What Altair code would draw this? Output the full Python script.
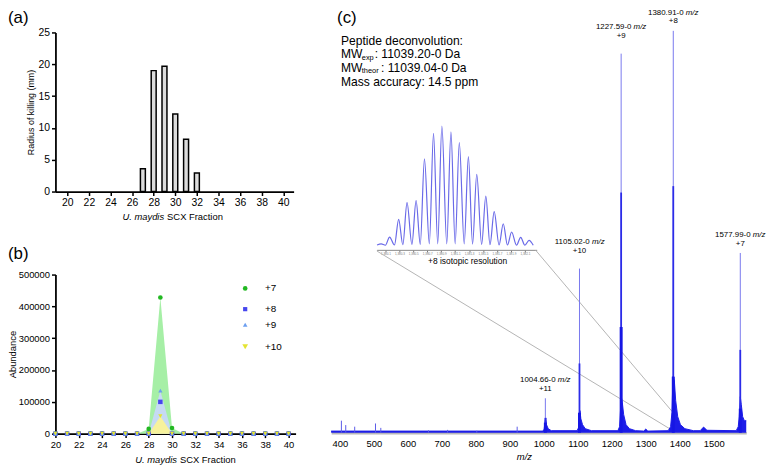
import altair as alt
import pandas as pd

FONT = "Liberation Sans"

# ---------------- (a) antifungal activity per SCX fraction ----------------
a_fraction = [27, 28, 29, 30, 31, 32]
a_radius = [3.6, 19.0, 19.7, 12.2, 8.2, 2.9]
frac_ticks = [20, 22, 24, 26, 28, 30, 32, 34, 36, 38, 40]
a_yticks = [0, 5, 10, 15, 20, 25]

# ---------------- (b) abundance of charge states per fraction ----------------
b_fraction = [20, 21, 22, 23, 24, 25, 26, 27, 28, 29, 30, 31, 32, 33, 34, 35, 36, 37, 38, 39, 40]
b_plus7 = [0, 0, 0, 0, 0, 0, 0, 0, 15000, 428000, 18000, 0, 0, 0, 0, 0, 0, 0, 0, 0, 0]
b_plus8 = [0, 0, 0, 0, 0, 0, 0, 0, 0, 100000, 0, 0, 0, 0, 0, 0, 0, 0, 0, 0, 0]
b_plus9 = [0, 0, 0, 0, 0, 0, 0, 0, 0, 135000, 0, 0, 0, 0, 0, 0, 0, 0, 0, 0, 0]
b_plus10 = [0, 0, 0, 0, 0, 0, 0, 0, 0, 55000, 0, 0, 0, 0, 0, 0, 0, 0, 0, 0, 0]
b_series = ["+7", "+8", "+9", "+10"]
b_colors = ["#22b822", "#4646ee", "#6c9ff0", "#e4e432"]
b_shapes = ["circle", "square", "triangle-up", "triangle-down"]
b_sizes = [22, 18, 22, 34]
b_area_series = ["+7", "+9", "+10"]
b_area_colors = ["#a6efa6", "#c6daf3", "#f7f29c"]
b_yticks = [0, 100000, 200000, 300000, 400000, 500000]
legend_y_px = [14, 35, 50.7, 73]

# ---------------- (c) mass spectrum ----------------
c_xticks = [400, 500, 600, 700, 800, 900, 1000, 1100, 1200, 1300, 1400, 1500]
env_mz = [374.6, 996, 1001, 1004, 1006, 1008, 1013, 1022,
          1098, 1102, 1104.5, 1106.5, 1109, 1114, 1122, 1140,
          1218, 1223, 1226, 1228, 1231, 1235, 1242, 1252, 1270,
          1294, 1300, 1306,
          1366, 1373, 1377, 1380, 1384, 1388, 1394, 1402, 1415, 1440,
          1460, 1470, 1480,
          1566, 1572, 1575, 1578, 1581, 1585, 1590, 1595.5]
env_int = [0.4, 0.4, 0.8, 3.0, 3.7, 2.0, 1.0, 0.5,
           0.5, 1.2, 4.5, 5.5, 3.5, 2.0, 1.0, 0.5,
           0.5, 1.5, 6.0, 9.0, 7.5, 4.5, 2.0, 1.0, 0.5,
           0.4, 0.9, 0.4,
           0.5, 1.5, 5.0, 14.0, 13.0, 8.0, 4.0, 2.0, 1.0, 0.5,
           0.5, 1.4, 0.6,
           0.5, 1.5, 4.0, 9.0, 7.0, 4.0, 3.0, 3.0]
peaks_mz = [1004.66, 1105.02, 1227.59, 1380.91, 1577.99]
peaks_top = [8.6, 41.0, 94.7, 100.4, 44.9]
peaks_mid = [3.7, 17.3, 60.0, 61.6, 20.7]
peaks_low = [2.5, 5.0, 26.4, 14.0, 6.0]
peaks_label = ["1004.66-0", "1105.02-0", "1227.59-0", "1380.91-0", "1577.99-0"]
peaks_charge = ["+11", "+10", "+9", "+8", "+7"]
label_lift = [0.0, 2.0, 2.0, 0.0, 0.0]   # extra label clearance above each peak (layout)
noise_mz = [404.7, 417.5, 443.8, 505.0, 520.6, 660.8, 717.0, 803.0, 921.7]
noise_int = [3.0, 1.9, 1.5, 2.3, 1.2, 0.6, 0.7, 0.5, 1.5]
conn_x1 = [509.0, 976.0]
conn_y1 = [45.4, 45.6]
conn_x2 = [1370.0, 1376.5]
conn_y2 = [1.0, 5.4]

# inset: +8 isotopic envelope
inset_mz = [1379.98, 1380.04, 1380.10, 1380.16, 1380.23, 1380.29, 1380.35, 1380.41,
            1380.48, 1380.54, 1380.60, 1380.66, 1380.73, 1380.79, 1380.85, 1380.91,
            1380.98, 1381.04, 1381.10, 1381.16, 1381.23, 1381.29, 1381.35, 1381.41,
            1381.48, 1381.54, 1381.60, 1381.66, 1381.73, 1381.79, 1381.85, 1381.91,
            1381.98, 1382.04, 1382.10, 1382.16, 1382.22]
inset_int = [1.0, 1.9, 0.8, 7.6, 1.0, 22.4, 1.2, 36.2,
             1.5, 38.0, 1.5, 72.6, 2.0, 93.9, 2.0, 100.0,
             2.0, 95.1, 2.0, 86.3, 2.0, 74.5, 1.8, 59.7,
             1.5, 41.7, 1.2, 28.8, 1.0, 18.7, 1.0, 11.8,
             0.8, 7.4, 0.8, 4.9, 0.8]
inset_ticks = [1380.1, 1380.3, 1380.5, 1380.7, 1380.9, 1381.1, 1381.3, 1381.5, 1381.7, 1381.9, 1382.1]


def txt(s, x, y, size, align="left", style="normal", baseline="middle", color="black"):
    return alt.Chart(pd.DataFrame({"t": [s]})).mark_text(
        align=align, baseline=baseline, fontSize=size, fontStyle=style, font=FONT, color=color
    ).encode(x=alt.value(x), y=alt.value(y), text="t:N")


ax_common = dict(domainColor="black", domainWidth=1.8, tickColor="black", tickWidth=1.5, tickSize=4,
                 labelColor="black", labelFont=FONT, titleFont=FONT, titleColor="black",
                 titleFontWeight="normal", grid=False, labelPadding=2, labelFlush=False)

# ---------------- panel (a) ----------------
WA, HA = 241, 161
df_a = pd.DataFrame({"fraction": a_fraction, "radius": a_radius})
bars_a = alt.Chart(df_a).mark_bar(size=5, fill="#dcdcdc", stroke="black", strokeWidth=1.5).encode(
    x=alt.X("fraction:Q", scale=alt.Scale(domain=[19.36, 40.5], nice=False, zero=False),
            axis=alt.Axis(values=frac_ticks, title=None, labelFontSize=10.5, **ax_common)),
    y=alt.Y("radius:Q", scale=alt.Scale(domain=[0, 25], nice=False),
            axis=alt.Axis(values=a_yticks, title="Radius of killing (mm)", titleFontSize=9,
                          titlePadding=3, labelFontSize=10.5, **ax_common)),
)
panel_a = alt.layer(
    bars_a,
    txt("(a)", -48, -15, 17),
    txt("U. maydis", 110, 187, 9.5, align="right", style="italic"),
    txt("SCX Fraction", 113, 187, 9.5),
).properties(width=WA, height=HA)

# ---------------- panel (b) ----------------
WB, HB = 243, 161
rows = []
for s, vals in zip(b_series, [b_plus7, b_plus8, b_plus9, b_plus10]):
    for f, v in zip(b_fraction, vals):
        rows.append({"fraction": f, "series": s, "abundance": v})
df_b = pd.DataFrame(rows)

xb = alt.X("fraction:Q", scale=alt.Scale(domain=[20, 40.6], nice=False, zero=False),
           axis=alt.Axis(values=frac_ticks, title=None, labelFontSize=9.5, **ax_common))
yb = alt.Y("abundance:Q", stack=None, scale=alt.Scale(domain=[0, 500000], nice=False),
           axis=alt.Axis(values=b_yticks, format="d", title="Abundance", titleFontSize=9.5,
                         titlePadding=1, labelFontSize=9.5, **ax_common))
areas_b = [
    alt.Chart(df_b).transform_filter(alt.datum.series == s).mark_area(color=c, opacity=1).encode(x=xb, y=yb)
    for s, c in zip(b_area_series, b_area_colors)
]
pts_b = alt.Chart(df_b).mark_point(filled=True, opacity=1).encode(
    x=xb, y=yb,
    color=alt.Color("series:N", scale=alt.Scale(domain=b_series, range=b_colors), legend=None),
    shape=alt.Shape("series:N", scale=alt.Scale(domain=b_series, range=b_shapes), legend=None),
    size=alt.Size("series:N", scale=alt.Scale(domain=b_series, range=b_sizes), legend=None),
)
legend_layers = []
for s, c, sh, sz, ly in zip(b_series, b_colors, b_shapes, b_sizes, legend_y_px):
    legend_layers.append(
        alt.Chart(pd.DataFrame({"t": [s]})).mark_point(filled=True, size=sz, opacity=1, color=c, shape=sh)
        .encode(x=alt.value(192), y=alt.value(ly))
    )
    legend_layers.append(txt(s, 212, ly, 10))

panel_b = alt.layer(
    *areas_b, pts_b, *legend_layers,
    txt("(b)", -48, -20.5, 17),
    txt("U. maydis", 123, 188, 9.5, align="right", style="italic"),
    txt("SCX Fraction", 126, 188, 9.5),
).properties(width=WB, height=HB)

# ---------------- panel (c) ----------------
WC, HC = 420, 405
xc_scale = alt.Scale(domain=[374.6, 1595.5], nice=False, zero=False)
xc_axis = alt.Axis(values=c_xticks, format="d", title="m/z", titleFontStyle="italic",
                   titleFontWeight="normal", titleFontSize=9.5, titleX=195, titleY=24,
                   titleBaseline="middle", labelFontSize=9.5, ticks=False, labelPadding=6,
                   domainColor="#b8b8b8", domainWidth=2.5, labelFont=FONT, titleFont=FONT,
                   labelColor="black", titleColor="black", labelFlush=False, grid=False)
yc_scale = alt.Scale(domain=[0, 100], nice=False)


def xc(field):
    return alt.X(field, scale=xc_scale, axis=xc_axis)


def yc(field):
    return alt.Y(field, scale=yc_scale, axis=None)


df_env = pd.DataFrame({"mz": env_mz, "inten": env_int})
df_pk = pd.DataFrame({"mz": peaks_mz, "top": peaks_top, "mid": peaks_mid, "low": peaks_low,
                      "lab": peaks_label, "charge": peaks_charge, "lift": label_lift})
df_noise = pd.DataFrame({"mz": noise_mz, "inten": noise_int})
df_conn = pd.DataFrame({"x1": conn_x1, "y1": conn_y1, "x2": conn_x2, "y2": conn_y2})

conn = alt.Chart(df_conn).mark_rule(color="#b4b4b4", strokeWidth=1).encode(
    x=xc("x1:Q"), x2="x2:Q", y=yc("y1:Q"), y2="y2:Q")
env_area = alt.Chart(df_env).mark_area(color="#1c1ce8", opacity=1).encode(x=xc("mz:Q"), y=yc("inten:Q"))
env_line = alt.Chart(df_env).mark_line(color="#1c1ce8", strokeWidth=1).encode(x=xc("mz:Q"), y=yc("inten:Q"))
noise = alt.Chart(df_noise).mark_rule(color="#5a5ae8", strokeWidth=1).encode(
    x=xc("mz:Q"), y=yc("inten:Q"), y2=alt.datum(0))
spike_top = alt.Chart(df_pk).mark_rule(color="#7878ee", strokeWidth=1).encode(
    x=xc("mz:Q"), y=yc("top:Q"), y2=alt.datum(0))
spike_mid = alt.Chart(df_pk).mark_rule(color="#2c2ce8", strokeWidth=1.8).encode(
    x=xc("mz:Q"), y=yc("mid:Q"), y2=alt.datum(0))
spike_low = alt.Chart(df_pk).mark_rule(color="#1616e4", strokeWidth=3).encode(
    x=xc("mz:Q"), y=yc("low:Q"), y2=alt.datum(0))
pk_lab = alt.Chart(df_pk).transform_calculate(ly="datum.top + datum.lift")
lab_num = pk_lab.mark_text(align="right", baseline="middle", dx=10.4, dy=-18.5, fontSize=8,
                           font=FONT, color="black").encode(x=xc("mz:Q"), y=yc("ly:Q"), text="lab:N")
lab_unit = pk_lab.mark_text(align="left", baseline="middle", dx=12.6, dy=-18.5, fontSize=8,
                            fontStyle="italic", font=FONT, color="black").encode(
    x=xc("mz:Q"), y=yc("ly:Q"), text=alt.value("m/z"))
lab_z = pk_lab.mark_text(align="center", baseline="middle", dy=-9.5, fontSize=8,
                         font=FONT, color="black").encode(x=xc("mz:Q"), y=yc("ly:Q"), text="charge:N")

main_c = alt.layer(
    conn, env_area, env_line, noise, spike_top, spike_mid, spike_low, lab_num, lab_unit, lab_z,
    txt("(c)", 6, -15, 17),
    txt("Peptide deconvolution:", 10, 8.5, 12.2),
    txt("MW", 10, 22, 12.2),
    txt("exp", 31, 25.5, 7.5),
    txt(": 11039.20-0 Da", 44, 22, 12.2),
    txt("MW", 10, 36, 12.2),
    txt("theor", 31, 39.5, 7.5),
    txt(": 11039.04-0 Da", 50.5, 36, 12.2),
    txt("Mass accuracy: 14.5 ppm", 10, 50.5, 12.2),
)

df_inset = pd.DataFrame({"mz": inset_mz, "inten": inset_int})
inset_line = alt.Chart(df_inset).mark_line(interpolate="monotone", color="#6a6ae8", strokeWidth=1.2).encode(
    x=alt.X("mz:Q", scale=alt.Scale(domain=[1379.974, 1382.27], range=[46, 208], nice=False, zero=False),
            axis=alt.Axis(orient="bottom", offset=-185, values=inset_ticks, labelFontSize=3,
                          labelColor="#777777", tickSize=2, tickColor="#777777", domainColor="#888888",
                          domainWidth=1, title=None, labelPadding=1, grid=False, labelFlush=False)),
    y=alt.Y("inten:Q", scale=alt.Scale(domain=[0, 100], range=[216.3, 94.7], nice=False), axis=None),
)
inset_c = alt.layer(inset_line, txt("+8 isotopic resolution", 138, 231, 8.5, align="center"))

panel_c = alt.layer(main_c, inset_c).resolve_scale(x="independent", y="independent").properties(
    width=WC, height=HC)

left = alt.vconcat(panel_a, panel_b, spacing=84, bounds="flush")
chart = alt.hconcat(left, panel_c, spacing=32).properties(
    padding={"top": -3, "left": -2, "right": 0, "bottom": 0}
).configure(font=FONT).configure_view(stroke="transparent")

chart.save("out.html", embed_options={"renderer": "svg", "actions": False})
